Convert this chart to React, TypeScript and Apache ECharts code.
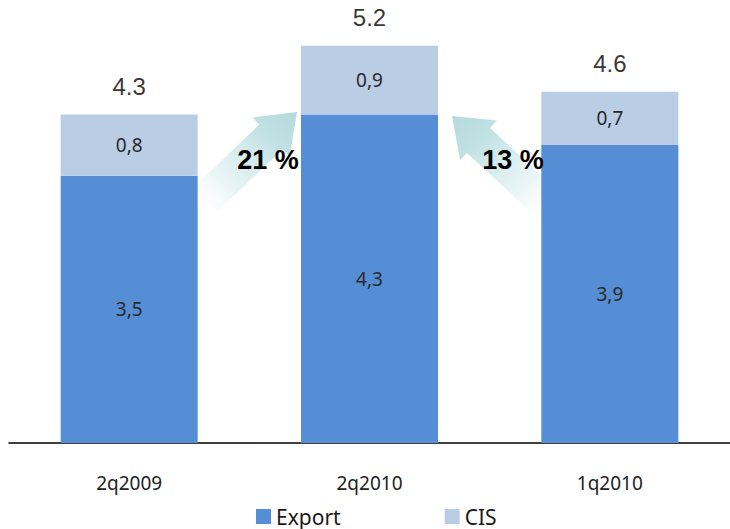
import React, { useEffect, useRef } from "react";
import * as echarts from "echarts";

const categories = ["2q2009", "2q2010", "1q2010"];
const exportValues = [3.5, 4.3, 3.9];
const cisValues = [0.8, 0.9, 0.7];
const growthLabels = ["21 %", "13 %"];

const totals = exportValues.map((v, i) => Math.round((v + cisValues[i]) * 10) / 10);

function arrowPoints(tail: number[], tip: number[]) {
  const dx = tip[0] - tail[0];
  const dy = tip[1] - tail[1];
  const len = Math.sqrt(dx * dx + dy * dy);
  const ux = dx / len;
  const uy = dy / len;
  const nx = -uy;
  const ny = ux;
  const headLen = 36;
  const headHalf = 27;
  const shaftHalf = 17;
  const bx = tip[0] - ux * headLen;
  const by = tip[1] - uy * headLen;
  return [
    [tip[0], tip[1]],
    [bx + nx * headHalf, by + ny * headHalf],
    [bx + nx * shaftHalf, by + ny * shaftHalf],
    [tail[0] + nx * shaftHalf, tail[1] + ny * shaftHalf],
    [tail[0] - nx * shaftHalf, tail[1] - ny * shaftHalf],
    [bx - nx * shaftHalf, by - ny * shaftHalf],
    [bx - nx * headHalf, by - ny * headHalf],
  ];
}

const arrowStops = [
  { offset: 0, color: "rgba(255,255,255,0)" },
  { offset: 0.3, color: "rgba(225,240,241,0.7)" },
  { offset: 0.75, color: "#c0e1e3" },
  { offset: 1, color: "#b5dadd" },
];

export default function App() {
  const ref = useRef<HTMLDivElement>(null);
  useEffect(() => {
    if (!ref.current) return;
    const chart = echarts.init(ref.current, null, { renderer: "svg" });
    const labelFont = "'Noto Sans', sans-serif";
    chart.setOption({
      animation: false,
      backgroundColor: "#ffffff",
      grid: { left: 9, right: -2, top: 0, bottom: 86, containLabel: false },
      legend: {
        data: ["Export", "CIS"],
        left: 256,
        top: 506,
        padding: 0,
        icon: "rect",
        itemWidth: 15,
        itemHeight: 15,
        itemGap: 104,
        textStyle: { fontFamily: labelFont, fontSize: 21, color: "#1a1a1a" },
      },
      xAxis: {
        type: "category",
        data: categories,
        axisLine: { show: true, lineStyle: { color: "#000000", width: 1.5 } },
        axisTick: { show: false },
        axisLabel: {
          margin: 30,
          fontFamily: labelFont,
          fontSize: 19,
          color: "#222222",
        },
      },
      yAxis: {
        type: "value",
        min: 0,
        max: 5.8,
        show: false,
        splitLine: { show: false },
      },
      series: [
        {
          name: "Export",
          type: "bar",
          stack: "total",
          barWidth: 137,
          data: exportValues,
          itemStyle: { color: "#558ED5" },
          label: {
            show: true,
            position: "inside",
            formatter: (p: any) => String(p.value).replace(".", ","),
            fontFamily: labelFont,
            fontSize: 19,
            color: "#2a2a2a",
          },
        },
        {
          name: "CIS",
          type: "bar",
          stack: "total",
          barWidth: 137,
          data: cisValues,
          itemStyle: { color: "#B9CDE5" },
          label: {
            show: true,
            position: "inside",
            formatter: (p: any) => String(p.value).replace(".", ","),
            fontFamily: labelFont,
            fontSize: 19,
            color: "#2a2a2a",
          },
        },
        {
          name: "Total",
          type: "scatter",
          symbolSize: 0,
          data: totals,
          label: {
            show: true,
            position: "top",
            distance: 16,
            formatter: (p: any) => Number(p.value).toFixed(1),
            fontFamily: "'Liberation Sans', Arial, sans-serif",
            fontSize: 24,
            color: "#000000",
          },
          silent: true,
        },
      ],
      graphic: [
        {
          type: "polygon",
          shape: { points: arrowPoints([205, 200], [297, 112]) },
          style: {
            fill: new echarts.graphic.LinearGradient(0, 1, 1, 0, arrowStops),
          },
          z: 1,
        },
        {
          type: "polygon",
          shape: { points: arrowPoints([545, 202], [452, 116]) },
          style: {
            fill: new echarts.graphic.LinearGradient(1, 1, 0, 0, arrowStops),
          },
          z: 1,
        },
        {
          type: "text",
          x: 268,
          y: 160,
          z: 5,
          style: {
            text: growthLabels[0],
            fontFamily: "'Liberation Sans', Arial, sans-serif",
            fontWeight: "bold",
            fontSize: 27,
            fill: "#000000",
            align: "center",
            verticalAlign: "middle",
          },
        },
        {
          type: "text",
          x: 513,
          y: 160,
          z: 5,
          style: {
            text: growthLabels[1],
            fontFamily: "'Liberation Sans', Arial, sans-serif",
            fontWeight: "bold",
            fontSize: 27,
            fill: "#000000",
            align: "center",
            verticalAlign: "middle",
          },
        },
      ],
    });
    return () => chart.dispose();
  }, []);
  return <div ref={ref} style={{ width: 730, height: 529, position: "absolute", left: 0, top: 0 }} />;
}
